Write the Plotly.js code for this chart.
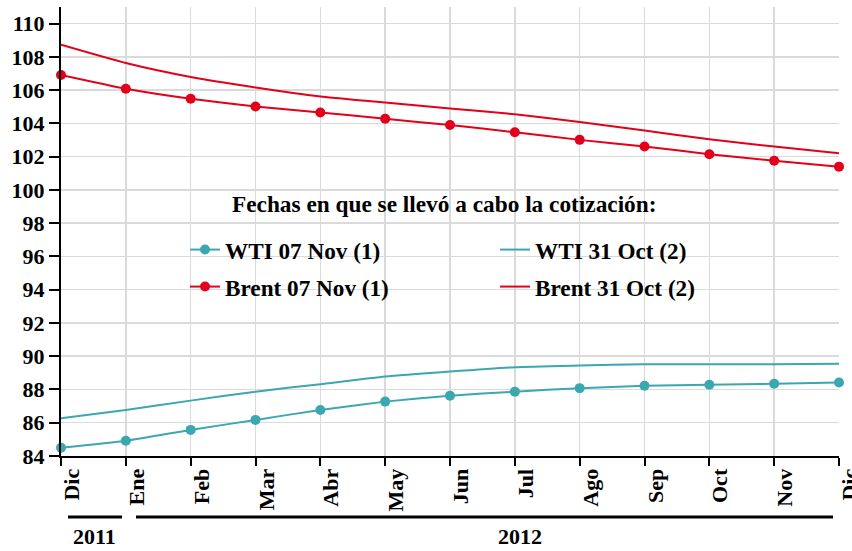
<!DOCTYPE html>
<html>
<head>
<meta charset="utf-8">
<script src="https://cdn.plot.ly/plotly-3.0.1.min.js"></script>
<style>html,body{margin:0;padding:0;background:#fff;}#chart{width:852px;height:551px;}</style>
</head>
<body>
<div id="chart"></div>
<script>
const months = ["Dic","Ene","Feb","Mar","Abr","May","Jun","Jul","Ago","Sep","Oct","Nov","Dic"];
const years = ["2011","2012"];
const wti07Nov = [84.5, 84.92, 85.57, 86.17, 86.77, 87.27, 87.63, 87.87, 88.08, 88.22, 88.28, 88.34, 88.42];
const wti31Oct = [86.27, 86.77, 87.33, 87.87, 88.32, 88.78, 89.08, 89.34, 89.44, 89.52, 89.52, 89.52, 89.54];
const brent07Nov = [106.91, 106.08, 105.48, 105.02, 104.66, 104.28, 103.9, 103.47, 103.01, 102.61, 102.15, 101.75, 101.4];
const brent31Oct = [108.73, 107.63, 106.79, 106.16, 105.62, 105.25, 104.9, 104.55, 104.08, 103.57, 103.05, 102.61, 102.21];
const seriesNames = ["WTI 07 Nov (1)", "WTI 31 Oct (2)", "Brent 07 Nov (1)", "Brent 31 Oct (2)"];
const legendTitle = "Fechas en que se llevó a cabo la cotización:";

const xIdx = months.map((_, i) => i);
const TEAL = "#3aa7b1";
const RED = "#e2001a";
const FONT = "Liberation Serif";

const lineStyle = (c) => ({color: c, width: 2, shape: "spline", smoothing: 0.5});

const traces = [
  {x: xIdx, y: wti07Nov, name: seriesNames[0], mode: "lines+markers", line: lineStyle(TEAL), marker: {color: TEAL, size: 10}, cliponaxis: false, legend: "legend"},
  {x: xIdx, y: wti31Oct, name: seriesNames[1], mode: "lines", line: lineStyle(TEAL), cliponaxis: false, legend: "legend"},
  {x: xIdx, y: brent07Nov, name: seriesNames[2], mode: "lines+markers", line: lineStyle(RED), marker: {color: RED, size: 10}, cliponaxis: false, legend: "legend2"},
  {x: xIdx, y: brent31Oct, name: seriesNames[3], mode: "lines", line: lineStyle(RED), cliponaxis: false, legend: "legend2"}
];

const boldFont = {family: FONT, size: 22, color: "#000", weight: "bold"};
const titleFont = {family: FONT, size: 23.3, color: "#000", weight: "bold"};
const legendFont = {family: FONT, size: 23.2, color: "#000", weight: "bold"};

const legendCommon = {
  orientation: "h",
  xanchor: "left",
  yanchor: "middle",
  x: 0.1594,
  bgcolor: "rgba(0,0,0,0)",
  borderwidth: 0,
  entrywidth: 265,
  itemwidth: 30,
  font: legendFont
};

const layout = {
  width: 852,
  height: 551,
  margin: {l: 61, r: 13, t: 7, b: 95},
  paper_bgcolor: "#fff",
  plot_bgcolor: "#fff",
  font: {family: FONT, weight: "bold"},
  showlegend: true,
  legend: Object.assign({}, legendCommon, {y: 0.4588}),
  legend2: Object.assign({}, legendCommon, {y: 0.3764}),
  xaxis: {
    range: [0, 12],
    tickmode: "array",
    tickvals: xIdx,
    ticktext: months,
    tickangle: -90,
    ticklabelshift: 11,
    ticklabelstandoff: -6,
    ticklabeloverflow: "allow",
    showgrid: true,
    gridcolor: "#dadada",
    gridwidth: 1.5,
    zeroline: false,
    showline: true,
    linecolor: "#000",
    linewidth: 2,
    ticks: "outside",
    ticklen: 8,
    tickwidth: 2,
    tickcolor: "#000",
    tickfont: boldFont,
    automargin: false
  },
  yaxis: {
    range: [84, 111],
    dtick: 2,
    tick0: 84,
    showgrid: true,
    gridcolor: "#dadada",
    gridwidth: 1.5,
    zeroline: false,
    showline: true,
    linecolor: "#000",
    linewidth: 2,
    ticks: "outside",
    ticklen: 10,
    tickwidth: 2,
    tickcolor: "#000",
    tickfont: boldFont,
    automargin: false
  },
  shapes: [
    {type: "rect", xref: "paper", yref: "paper", x0: 0.108, x1: 0.911, y0: 0.5256, y1: 0.5857, fillcolor: "#fff", line: {width: 0}, layer: "between"},
    {type: "rect", xref: "paper", yref: "paper", x0: 0.108, x1: 0.911, y0: 0.3385, y1: 0.4989, fillcolor: "#fff", line: {width: 0}, layer: "between"},
    {type: "line", xref: "paper", yref: "paper", x0: 0.009, x1: 0.0784, y0: -0.1359, y1: -0.1359, line: {color: "#000", width: 3}},
    {type: "line", xref: "paper", yref: "paper", x0: 0.0964, x1: 0.9923, y0: -0.1359, y1: -0.1359, line: {color: "#000", width: 3}}
  ],
  annotations: [
    {text: legendTitle, xref: "paper", yref: "paper", x: 0.4923, y: 0.5612, xanchor: "center", yanchor: "middle", showarrow: false, font: titleFont},
    {text: years[0], xref: "paper", yref: "paper", x: 0.0437, y: -0.18, xanchor: "center", yanchor: "middle", showarrow: false, font: boldFont},
    {text: years[1], xref: "paper", yref: "paper", x: 0.5906, y: -0.18, xanchor: "center", yanchor: "middle", showarrow: false, font: boldFont}
  ]
};

Plotly.newPlot("chart", traces, layout, {displayModeBar: false, staticPlot: true});
</script>
</body>
</html>
